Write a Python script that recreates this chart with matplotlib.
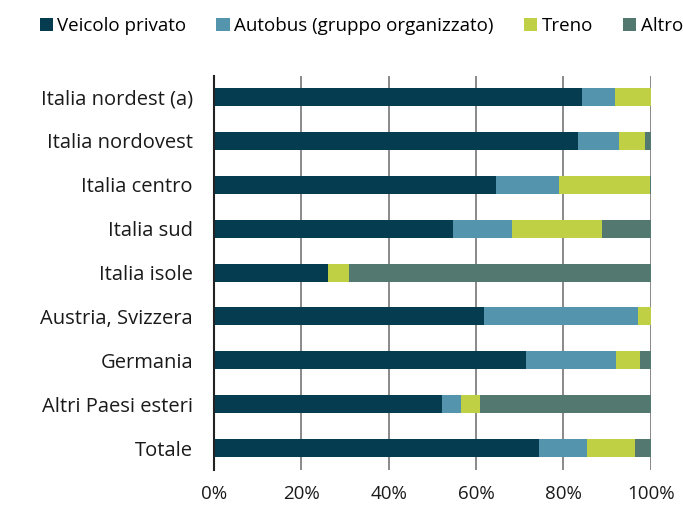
import matplotlib.pyplot as plt
import numpy as np

plt.rcParams['font.family'] = ['Open Sans', 'DejaVu Sans']

categories = ['Italia nordest (a)', 'Italia nordovest', 'Italia centro', 'Italia sud',
              'Italia isole', 'Austria, Svizzera', 'Germania', 'Altri Paesi esteri', 'Totale']
veicolo = [84.2, 83.4, 64.6, 54.7, 26.1, 61.8, 71.5, 52.1, 74.3]
autobus = [7.6, 9.3, 14.4, 13.6, 0.0, 35.3, 20.6, 4.5, 11.1]
treno = [8.2, 6.0, 20.8, 20.6, 4.9, 2.9, 5.3, 4.3, 10.9]
altro = [0.0, 1.3, 0.2, 11.1, 69.0, 0.0, 2.6, 39.1, 3.7]

series = [('Veicolo privato', veicolo, '#053c50'),
          ('Autobus (gruppo organizzato)', autobus, '#5494ad'),
          ('Treno', treno, '#bfd045'),
          ('Altro', altro, '#53786f')]

fig = plt.figure(figsize=(6.83, 5.07), dpi=100)
ax = fig.add_axes([0.313, 0.073, 0.64, 0.777])

y = np.arange(len(categories))
left = np.zeros(len(categories))
for name, vals, col in series:
    ax.barh(y, vals, left=left, height=0.41, color=col, label=name, zorder=3)
    left += np.array(vals)

fs = 14.5
ax.set_ylim(8.5, -0.48)
ax.set_xlim(0, 100)
ax.set_yticks(y)
ax.set_yticklabels(categories, fontsize=fs, color='#1a1a1a')
ax.set_xticks(np.arange(0, 101, 20))
ax.set_xticklabels([f'{v}%' for v in range(0, 101, 20)], fontsize=13.5, color='#1a1a1a')
ax.tick_params(axis='both', length=0)
ax.tick_params(axis='y', pad=15)
ax.tick_params(axis='x', pad=11)
ax.grid(axis='x', color='#808080', linewidth=1.3, zorder=0)
for s in ['top', 'right', 'bottom']:
    ax.spines[s].set_visible(False)
ax.spines['left'].set_color('#222222')
ax.spines['left'].set_linewidth(1.5)
ax.spines['left'].set_zorder(4)

fig.legend(loc='upper center', bbox_to_anchor=(0.529, 1.0), ncol=4, frameon=False,
           fontsize=13.5, handlelength=0.7, handleheight=0.7, handletextpad=0.25,
           columnspacing=1.6)

fig.savefig('out.png', dpi=100)
